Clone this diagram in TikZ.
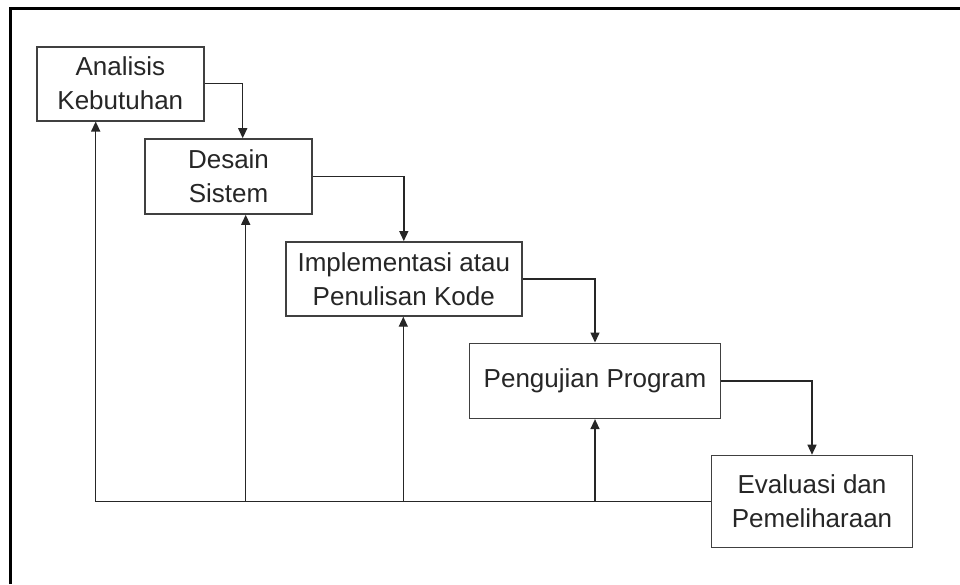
\documentclass[tikz,border=0pt]{standalone}
\usepackage{fontspec}
\setmainfont{Liberation Sans}
\usetikzlibrary{arrows.meta,calc}
\begin{document}
\begin{tikzpicture}[x=1pt,y=-1pt,
  box/.style={draw=black!75,line width=1.6pt,rectangle,inner sep=0pt,align=center,
    font=\fontsize{26}{34}\selectfont,text=black!85},
  conn/.style={draw=black!85,line width=1.4pt},
  arr/.style={conn,-{Triangle[length=10pt,width=9pt]}}]
\useasboundingbox (0,0) rectangle (960,584);
\fill[white] (0,0) rectangle (960,584);
\draw[line width=3pt,black] (10.5,584) -- (10.5,8.5) -- (960,8.5);

\node[box,minimum width=167pt,minimum height=74pt] (b1) at (120.3,83.7) {Analisis\\Kebutuhan};
\node[box,minimum width=167pt,minimum height=75pt] (b2) at (228.5,176.5) {Desain\\Sistem};
\node[box,minimum width=236pt,minimum height=74pt] (b3) at (403.8,278.9) {Implementasi atau\\Penulisan Kode};
\node[box,minimum width=251pt,minimum height=75pt] (b4) at (595,380.8) {Pengujian Program};
\node[box,minimum width=201pt,minimum height=92pt] (b5) at (812,501.5) {Evaluasi dan\\Pemeliharaan};

% forward connectors
\coordinate (d1) at (242.7,83.7);
\draw[arr] (b1.east) -- (d1) -- (d1 |- b2.north);
\draw[arr] (b2.east) -| (b3.north);
\draw[arr] (b3.east) -| (b4.north);
\draw[arr] (b4.east) -| (b5.north);

% feedback
\coordinate (f1) at (95.7,501.5);
\coordinate (f2) at (245.7,501.5);
\coordinate (f3) at (403.3,501.5);
\coordinate (f4) at (595,501.5);
\draw[conn] (b5.west) -- (f1);
\draw[arr] (f1) -- (f1 |- b1.south);
\draw[arr] (f2) -- (f2 |- b2.south);
\draw[arr] (f3) -- (f3 |- b3.south);
\draw[arr] (f4) -- (b4.south);
\end{tikzpicture}
\end{document}
